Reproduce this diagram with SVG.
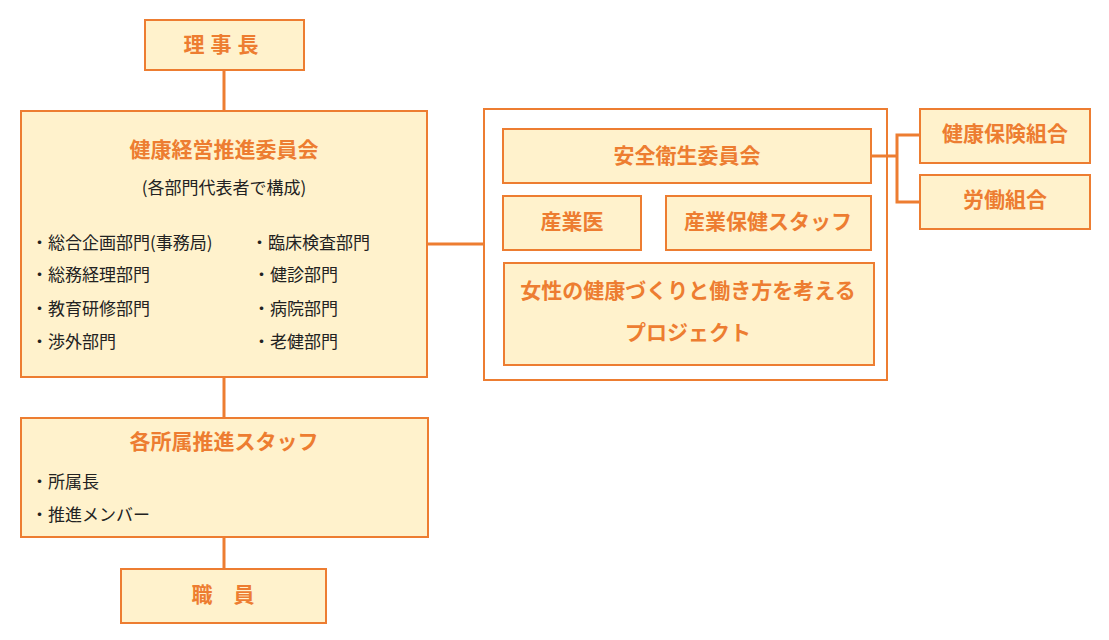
<svg xmlns="http://www.w3.org/2000/svg" width="1109" height="640" viewBox="0 0 1109 640">
<style>
.box{fill:#FFF2CC;stroke:#ED7D31;stroke-width:2}
.frame{fill:#FFFFFF;stroke:#ED7D31;stroke-width:2}
.ln{fill:none;stroke:#ED7D31;stroke-width:3}
.t{font-family:"Noto Sans CJK JP","Noto Sans CJK SC",sans-serif;font-weight:bold;fill:#ED7D31;font-size:21px;text-anchor:middle;dominant-baseline:central}
.b{font-family:"Noto Sans CJK JP","Noto Sans CJK SC",sans-serif;fill:#222;font-size:17px;dominant-baseline:central}
</style>
<rect width="1109" height="640" fill="#FFFFFF"/>
<g id="anzen-group">
<rect class="frame" x="484" y="109" width="403" height="271"/>
</g>
<g id="connectors">
<line class="ln" x1="224" y1="70" x2="224" y2="111"/>
<line class="ln" x1="224" y1="377" x2="224" y2="418"/>
<line class="ln" x1="224" y1="537" x2="224" y2="569"/>
<line class="ln" x1="427" y1="244" x2="484" y2="244"/>
<polyline class="ln" points="871,156 897,156"/>
<polyline class="ln" points="920,135 897,135 897,202 920,202"/>
</g>
<g id="rijicho"><rect class="box" x="145" y="20" width="159" height="50"/><text class="t" x="224" y="43" font-size="19" letter-spacing="6">理事長</text></g>
<g id="kenko-keiei">
<rect class="box" x="21" y="111" width="406" height="266"/>
<text class="t" x="224" y="148">健康経営推進委員会</text>
<text class="b" x="224" y="186" text-anchor="middle">(各部門代表者で構成)</text>
<text class="b" x="31" y="241">・総合企画部門(事務局)</text>
<text class="b" x="31" y="273">・総務経理部門</text>
<text class="b" x="31" y="307">・教育研修部門</text>
<text class="b" x="31" y="340">・渉外部門</text>
<text class="b" x="251" y="241">・臨床検査部門</text>
<text class="b" x="253" y="273">・健診部門</text>
<text class="b" x="253" y="307">・病院部門</text>
<text class="b" x="253" y="340">・老健部門</text>
</g>
<g id="shozoku">
<rect class="box" x="21" y="418" width="407" height="119"/>
<text class="t" x="224" y="440">各所属推進スタッフ</text>
<text class="b" x="31" y="480">・所属長</text>
<text class="b" x="31" y="513">・推進メンバー</text>
</g>
<g id="shokuin"><rect class="box" x="121" y="569" width="205" height="54"/><text class="t" x="223" y="593" xml:space="preserve">職　員</text></g>
<g id="anzen"><rect class="box" x="503" y="129" width="368" height="54"/><text class="t" x="687" y="154">安全衛生委員会</text></g>
<g id="sangyoi"><rect class="box" x="503" y="196" width="138" height="54"/><text class="t" x="572" y="220">産業医</text></g>
<g id="sangyo-hoken"><rect class="box" x="666" y="196" width="205" height="54"/><text class="t" x="768" y="220">産業保健スタッフ</text></g>
<g id="josei"><rect class="box" x="504" y="263" width="370" height="102"/><text class="t" x="688" y="289">女性の健康づくりと働き方を考える</text><text class="t" x="688" y="331">プロジェクト</text></g>
<g id="kenpo"><rect class="box" x="920" y="109" width="170" height="54"/><text class="t" x="1005" y="132">健康保険組合</text></g>
<g id="rodo"><rect class="box" x="920" y="175" width="170" height="54"/><text class="t" x="1005" y="198">労働組合</text></g>
</svg>
